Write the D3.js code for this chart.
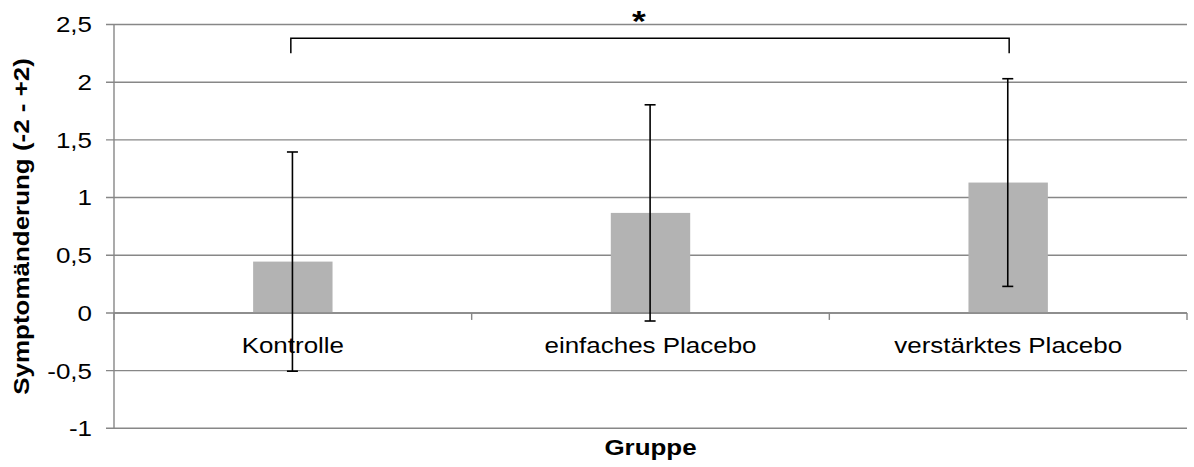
<!DOCTYPE html>
<html><head><meta charset="utf-8">
<script src="https://cdn.jsdelivr.net/npm/d3@7"></script>
<style>
html,body{margin:0;padding:0;background:#fff;}
text{font-family:"Liberation Sans",Arial,sans-serif;fill:#000;}
</style></head>
<body><svg id="c" width="1194" height="467"></svg>
<script>
const categories = ["Kontrolle", "einfaches Placebo", "verstärktes Placebo"];
const means = [0.445, 0.867, 1.13];
const errors = [0.95, 0.937, 0.9];
const yTicks = [-1, -0.5, 0, 0.5, 1, 1.5, 2, 2.5];
const yTickLabels = ["-1", "-0,5", "0", "0,5", "1", "1,5", "2", "2,5"];
const bracket = {from: 0, to: 2, level: 2.38, drop: 2.25, label: "*"};
const yTitle = "Symptomänderung (-2 - +2)";
const xTitle = "Gruppe";

const svg = d3.select("#c");
const L = 114, R = 1187, T = 24.5, B = 428.3;
const SX = 1.18;
const x = d3.scaleBand().domain(categories).range([L, R]).padding(0);
const y = d3.scaleLinear().domain([-1, 2.5]).range([B, T]);
const grid = "#878787";

function stext(g, px, py, str, anchor, opts) {
  const t = g.append("text")
    .attr("transform", `translate(${px},${py}) scale(${SX},1)`)
    .attr("text-anchor", anchor)
    .style("font-size", (opts && opts.size || 22) + "px")
    .text(str);
  if (opts && opts.bold) t.style("font-weight", "bold");
  if (opts && opts.dy) t.attr("dy", opts.dy);
  return t;
}

// gridlines + y ticks
svg.append("g").selectAll("line").data(yTicks).join("line")
  .attr("x1", L - 8).attr("x2", R)
  .attr("y1", d => y(d)).attr("y2", d => y(d))
  .attr("stroke", grid).attr("stroke-width", 1.4);
// y axis line
svg.append("line").attr("x1", L).attr("x2", L).attr("y1", T).attr("y2", B)
  .attr("stroke", grid).attr("stroke-width", 1.4);
// y tick labels
const gy = svg.append("g");
yTicks.forEach((d, i) => stext(gy, 92, y(d), yTickLabels[i], "end", {dy: "0.36em"}));

// bars
const bw = x.bandwidth() * 0.222;
svg.append("g").selectAll("rect").data(categories).join("rect")
  .attr("x", d => x(d) + x.bandwidth() / 2 - bw / 2)
  .attr("width", bw)
  .attr("y", (d, i) => y(means[i]))
  .attr("height", (d, i) => y(0) - y(means[i]))
  .attr("fill", "#b3b3b3");

// x axis at zero
svg.append("line").attr("x1", L).attr("x2", R).attr("y1", y(0)).attr("y2", y(0))
  .attr("stroke", grid).attr("stroke-width", 1.6);
const bounds = categories.map(c => x(c)).concat([R]);
svg.append("g").selectAll("line").data(bounds).join("line")
  .attr("x1", d => d).attr("x2", d => d)
  .attr("y1", y(0)).attr("y2", y(0) + 7)
  .attr("stroke", grid).attr("stroke-width", 1.4);

// error bars
const ge = svg.append("g").attr("stroke", "#000").attr("stroke-width", 1.6);
categories.forEach((c, i) => {
  const cx = x(c) + x.bandwidth() / 2 - 0.4;
  const hi = y(means[i] + errors[i]), lo = y(means[i] - errors[i]);
  ge.append("line").attr("x1", cx).attr("x2", cx).attr("y1", hi).attr("y2", lo);
  ge.append("line").attr("x1", cx - 5.5).attr("x2", cx + 5.5).attr("y1", hi).attr("y2", hi);
  ge.append("line").attr("x1", cx - 5.5).attr("x2", cx + 5.5).attr("y1", lo).attr("y2", lo);
});

// category labels
const gx = svg.append("g");
categories.forEach(c => stext(gx, x(c) + x.bandwidth() / 2, 353, c, "middle"));

// significance bracket
const bx1 = x(categories[bracket.from]) + x.bandwidth() / 2 - 2;
const bx2 = x(categories[bracket.to]) + x.bandwidth() / 2 + 1;
svg.append("path")
  .attr("d", `M${bx1},${y(bracket.drop)}V${y(bracket.level)}H${bx2}V${y(bracket.drop)}`)
  .attr("fill", "none").attr("stroke", "#000").attr("stroke-width", 1.5);
stext(svg, (bx1 + bx2) / 2 - 11, 31, bracket.label, "middle", {bold: true, size: 30});

// axis titles
stext(svg, (L + R) / 2, 455, xTitle, "middle", {bold: true});
svg.append("text")
  .attr("transform", `translate(29,${(T + B) / 2}) rotate(-90) scale(${SX},1)`)
  .attr("text-anchor", "middle")
  .style("font-size", "22px").style("font-weight", "bold")
  .text(yTitle);
</script></body></html>
